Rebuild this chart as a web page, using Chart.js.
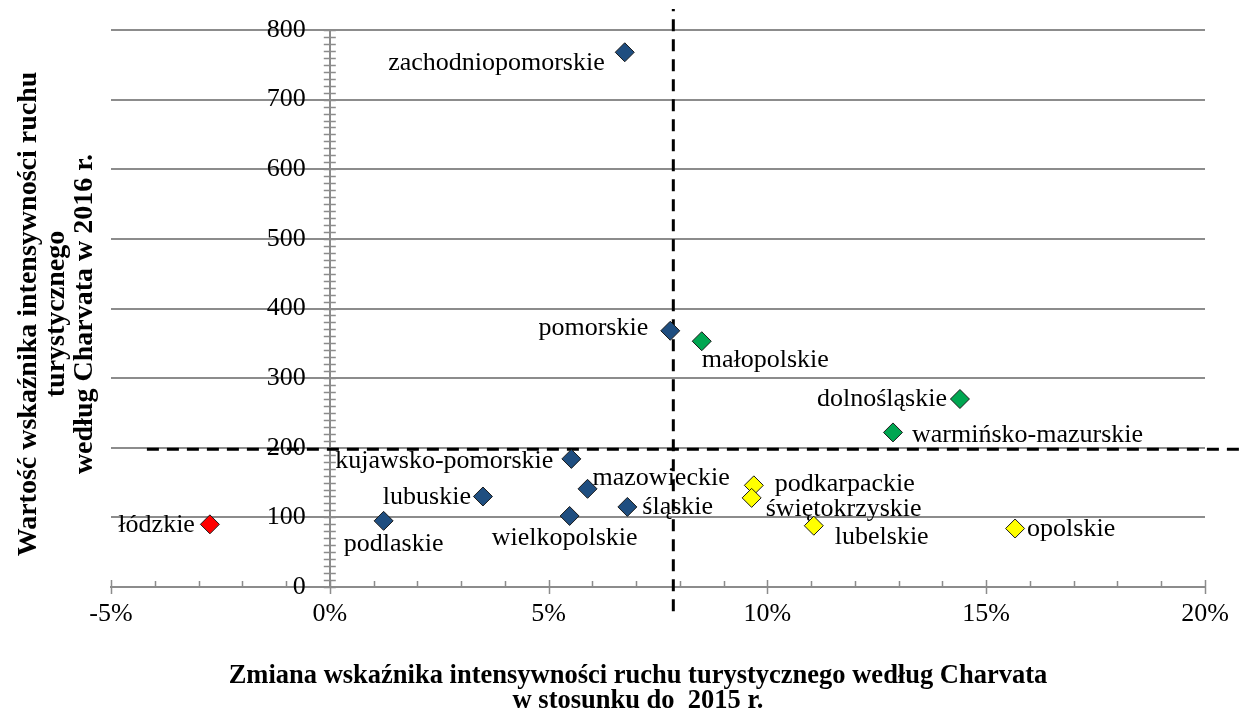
<!DOCTYPE html>
<html lang="pl">
<head>
<meta charset="utf-8">
<title>Wskaźnik Charvata</title>
<script src="https://cdn.jsdelivr.net/npm/chart.js@4/dist/chart.umd.min.js"></script>
<style>
  html, body { margin: 0; padding: 0; background: #fff; }
  #wrap { width: 1244px; height: 716px; }
</style>
</head>
<body>
<div id="wrap"><canvas id="chart" width="1244" height="716"></canvas></div>
<script>
// Data
const regions = [
  "zachodniopomorskie", "pomorskie", "małopolskie", "dolnośląskie",
  "warmińsko-mazurskie", "kujawsko-pomorskie", "mazowieckie", "lubuskie",
  "łódzkie", "podlaskie", "wielkopolskie", "śląskie",
  "podkarpackie", "świętokrzyskie", "lubelskie", "opolskie"
];
const changePct = [6.74, 7.78, 8.5, 14.4, 12.87, 5.52, 5.89, 3.5, -2.74, 1.23, 5.48, 6.8, 9.69, 9.64, 11.06, 15.66];
const index2016 = [768, 368, 353, 270, 222, 184, 141, 130, 90, 95, 102, 115, 146, 128, 88, 84];
const groupOf = ["blue", "blue", "green", "green", "green", "blue", "blue", "blue", "red", "blue", "blue", "blue", "yellow", "yellow", "yellow", "yellow"];

// Reference lines (averages) and how far they reach past the plot
const meanX = 7.85;
const meanY = 198;
const vLineYRange = [-35, 830];
const hLineXRange = [-4.18, 21];

const xTicks = [-5, 0, 5, 10, 15, 20];
const yTicks = [0, 100, 200, 300, 400, 500, 600, 700, 800];

// Label placement (align, dx, dy in px) - styling only
const labelPlace = [
  ["right", -20, 11], ["right", -22, -3], ["left", 0, 19], ["right", -13, 0],
  ["left", 19, 3], ["right", -18, 2], ["left", 5, -11], ["right", -12, 1],
  ["right", -15, 1], ["center", 10, 23], ["center", -5, 22], ["left", 15, 0],
  ["left", 21, -1], ["left", 14, 11], ["left", 21, 11], ["left", 12, 1]
];

const colors = { blue: "#1f4e80", green: "#00a651", yellow: "#ffff00", red: "#ff0000" };
const FONT = "'Liberation Serif', 'Times New Roman', serif";
const AXIS_GREY = "#8c8c8c";

const datasets = Object.keys(colors).map((g) => {
  const idx = regions.map((r, i) => i).filter((i) => groupOf[i] === g);
  return {
    label: g,
    data: idx.map((i) => ({ x: changePct[i], y: index2016[i] })),
    pointStyle: "rectRot",
    pointRadius: 9.5,
    pointBackgroundColor: colors[g],
    pointBorderColor: "#1a1a1a",
    pointBorderWidth: 1,
    order: 0,
  };
});

datasets.push({
  type: "line",
  label: "meanX",
  data: vLineYRange.map((y) => ({ x: meanX, y: y })),
  borderColor: "#000",
  borderWidth: 3,
  borderDash: [12, 8],
  pointRadius: 0,
  showLine: true,
  clip: false,
  order: 5,
});
datasets.push({
  type: "line",
  label: "meanY",
  data: hLineXRange.map((x) => ({ x: x, y: meanY })),
  borderColor: "#000",
  borderWidth: 3,
  borderDash: [12, 8],
  pointRadius: 0,
  showLine: true,
  clip: false,
  order: 5,
});

const extras = {
  id: "extras",
  beforeDatasetsDraw(chart) {
    const c = chart.ctx;
    const xs = chart.scales.x;
    const ys = chart.scales.y;
    const ax = xs.getPixelForValue(0);
    const ay = ys.getPixelForValue(0);

    // minor / major tick marks
    c.save();
    c.strokeStyle = AXIS_GREY;
    c.lineWidth = 1.5;
    c.beginPath();
    for (let v = 0; v <= 800; v += 10) {
      const py = Math.round(ys.getPixelForValue(v)) + 0.5;
      c.moveTo(ax - 6, py);
      c.lineTo(ax + 6, py);
    }
    for (let v = -5; v <= 20; v += 1) {
      const px = Math.round(xs.getPixelForValue(v)) + 0.5;
      if (v % 5 === 0) {
        c.moveTo(px, ay - 7);
        c.lineTo(px, ay + 7);
      } else {
        c.moveTo(px, ay - 6);
        c.lineTo(px, ay);
      }
    }
    c.stroke();
    c.restore();

    c.save();
    c.fillStyle = "#000";
    c.textBaseline = "middle";
    // y tick labels, left of the axis at 0%
    c.font = "26px " + FONT;
    c.textAlign = "right";
    yTicks.forEach((v) => {
      c.fillText(String(v), ax - 24, ys.getPixelForValue(v));
    });
    // point labels
    regions.forEach((name, i) => {
      const [align, dx, dy] = labelPlace[i];
      c.textAlign = align;
      c.fillText(name, xs.getPixelForValue(changePct[i]) + dx, ys.getPixelForValue(index2016[i]) + dy);
    });
    c.restore();
  },
  afterDraw(chart) {
    const c = chart.ctx;
    c.save();
    c.fillStyle = "#000";
    c.textAlign = "center";
    c.textBaseline = "middle";
    // x axis title
    c.font = "bold 26.5px " + FONT;
    c.fillText("Zmiana wskaźnika intensywności ruchu turystycznego według Charvata", 638, 676);
    c.fillText("w stosunku do  2015 r.", 638, 701);
    // y axis title
    c.font = "bold 28px " + FONT;
    c.translate(0, 314);
    c.rotate(-Math.PI / 2);
    c.fillText("Wartość wskaźnika intensywności ruchu", 0, 29);
    c.fillText("turystycznego", 0, 57);
    c.fillText("według Charvata w 2016 r.", 0, 85);
    c.restore();
  },
};

new Chart(document.getElementById("chart"), {
  type: "scatter",
  data: { datasets: datasets },
  options: {
    responsive: false,
    animation: false,
    layout: { padding: { left: 111, right: 39, top: 30, bottom: 129 } },
    plugins: { legend: { display: false }, tooltip: { enabled: false } },
    scales: {
      x: {
        type: "linear",
        min: -5,
        max: 20,
        position: { y: 0 },
        afterFit: (s) => { s.height = 0; },
        afterBuildTicks: (s) => { s.ticks = xTicks.map((v) => ({ value: v })); },
        ticks: {
          callback: (v) => v + "%",
          font: { family: FONT, size: 26 },
          color: "#000",
          padding: 12,
        },
        grid: { drawOnChartArea: false, drawTicks: false },
        border: { color: AXIS_GREY, width: 2 },
      },
      y: {
        type: "linear",
        min: 0,
        max: 800,
        position: { x: 0 },
        afterFit: (s) => { s.width = 0; },
        afterBuildTicks: (s) => { s.ticks = yTicks.map((v) => ({ value: v })); },
        ticks: { display: false },
        grid: {
          color: (ctx) => (ctx.tick && ctx.tick.value === 0 ? "rgba(0,0,0,0)" : AXIS_GREY),
          lineWidth: 2,
          drawTicks: false,
        },
        border: { color: AXIS_GREY, width: 2 },
      },
    },
  },
  plugins: [extras],
});
</script>
</body>
</html>
